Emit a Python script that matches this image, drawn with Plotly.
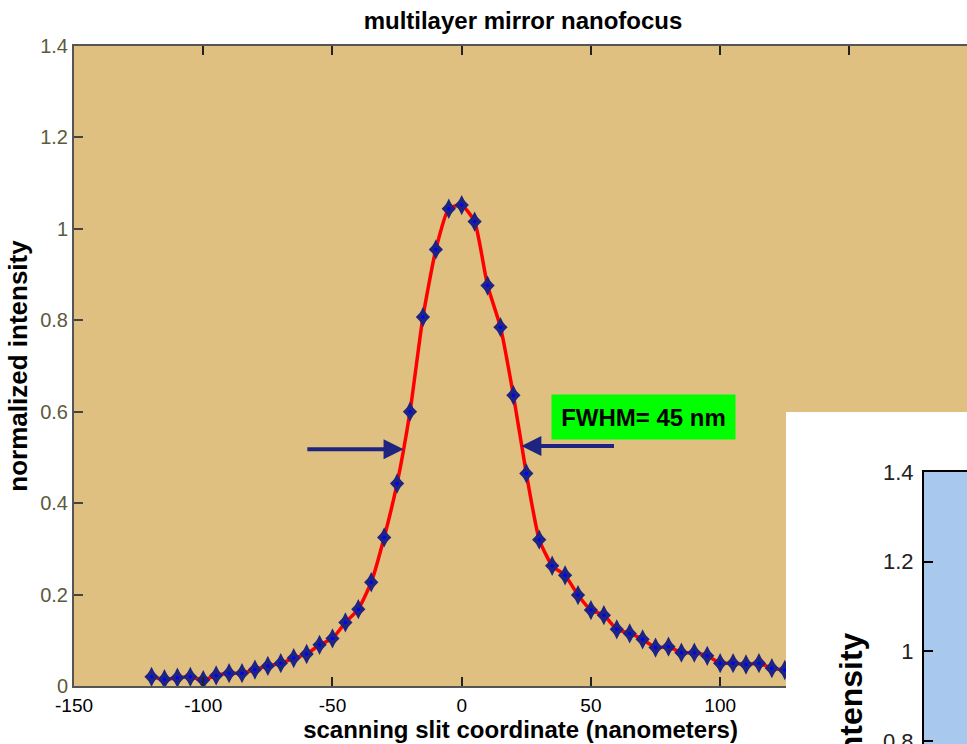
import plotly.graph_objects as go

# Scan positions (nm) and normalized intensity of the focused beam profile
x_nm = [-120, -115, -110, -105, -100, -95, -90, -85, -80, -75,
        -70, -65, -60, -55, -50, -45, -40, -35, -30, -25,
        -20, -15, -10, -5, 0, 5, 10, 15, 20, 25,
        30, 35, 40, 45, 50, 55, 60, 65, 70, 75,
        80, 85, 90, 95, 100, 105, 110, 115, 120, 125]
intensity = [0.020, 0.015, 0.018, 0.020, 0.013, 0.023, 0.028, 0.028, 0.036, 0.044,
             0.050, 0.061, 0.070, 0.090, 0.104, 0.139, 0.168, 0.227, 0.325, 0.443,
             0.600, 0.807, 0.955, 1.044, 1.052, 1.016, 0.876, 0.785, 0.636, 0.465,
             0.320, 0.263, 0.242, 0.199, 0.166, 0.155, 0.124, 0.115, 0.102, 0.084,
             0.086, 0.073, 0.073, 0.066, 0.050, 0.050, 0.047, 0.050, 0.039, 0.035]

x_ticks = [-150, -100, -50, 0, 50, 100, 150]
x_tick_labels = ["-150", "-100", "-50", "0", "50", "100", "150"]
y_ticks = [0, 0.2, 0.4, 0.6, 0.8, 1.0, 1.2, 1.4]
y_tick_labels = ["0", "0.2", "0.4", "0.6", "0.8", "1", "1.2", "1.4"]

# Half-maximum markers: arrow tails and tips (x in nm) at their heights
fwhm_left = {"tail": -60.3, "tip": -22.5, "level": 0.518}
fwhm_right = {"tail": 59.5, "tip": 23.1, "level": 0.525}
fwhm_label = "FWHM= 45 nm"

# Inset panel axis
inset_ticks = [0.8, 1.0, 1.2, 1.4]
inset_tick_labels = ["0.8", "1", "1.2", "1.4"]

W, H = 967, 744
TAN = "#dfc080"
NAVY = "#1e2480"
FONT = "Liberation Sans, Arial, sans-serif"

fig = go.Figure()

# fitted profile line
fig.add_trace(go.Scatter(
    x=x_nm, y=intensity, mode="lines",
    line=dict(color="#ff0000", width=3.5, shape="spline", smoothing=0.5),
    hoverinfo="skip", showlegend=False))
# diamond markers (two overlaid shapes give a slightly tall diamond)
fig.add_trace(go.Scatter(
    x=x_nm, y=intensity, mode="markers",
    marker=dict(symbol="diamond", size=11, color=NAVY, line=dict(width=0)),
    showlegend=False))
fig.add_trace(go.Scatter(
    x=x_nm, y=intensity, mode="markers",
    marker=dict(symbol="diamond-tall", size=14.5, color=NAVY, line=dict(width=0)),
    showlegend=False))
fig.add_trace(go.Scatter(
    x=x_nm, y=intensity, mode="markers",
    marker=dict(symbol="circle", size=3.5, color="#0000ff", line=dict(width=0)),
    showlegend=False))

# placeholder traces that create the inset panel subplots
fig.add_trace(go.Scatter(x=[None], y=[None], xaxis="x2", yaxis="y2",
                         mode="markers", showlegend=False, hoverinfo="skip"))
fig.add_trace(go.Scatter(x=[None], y=[None], xaxis="x3", yaxis="y3",
                         mode="markers", showlegend=False, hoverinfo="skip"))

inset_bottom = 1.4 - 272 / 448.3

fig.update_layout(
    template="none",
    width=W, height=H,
    margin=dict(l=0, r=0, t=0, b=0),
    paper_bgcolor="white",
    plot_bgcolor=TAN,
    showlegend=False,
    title=dict(text="<b>multilayer mirror nanofocus</b>",
               x=523 / W, xanchor="center", xref="paper",
               y=1 - 21 / H, yanchor="middle", yref="paper",
               font=dict(family=FONT, size=24, color="black")),
    xaxis=dict(domain=[74 / W, 1], range=[-150, 195.5], anchor="y",
               tickvals=x_ticks, ticktext=x_tick_labels,
               ticks="inside", ticklen=9, tickwidth=1.5, tickcolor="#222222",
               showline=True, linecolor="#555555", linewidth=2, mirror="ticks",
               showgrid=False, zeroline=False, automargin=False,
               ticklabelstandoff=1,
               tickfont=dict(family=FONT, size=19, color="black"),
               title=dict(text="<b>scanning slit coordinate (nanometers)</b>",
                          standoff=0,
                          font=dict(family=FONT, size=24, color="black"))),
    yaxis=dict(domain=[58 / H, 698 / H], range=[0, 1.4], anchor="x",
               tickvals=y_ticks, ticktext=y_tick_labels,
               ticks="inside", ticklen=9, tickwidth=1.5, tickcolor="#444444",
               showline=True, linecolor="#555555", linewidth=2, mirror=False,
               showgrid=False, zeroline=False, automargin=False,
               ticklabelstandoff=0,
               tickfont=dict(family=FONT, size=20, color="#5c5a3c"),
               title=dict(text="<b>normalized intensity</b>", standoff=5,
                          font=dict(family=FONT, size=26, color="black"))),
    # white panel of the inset figure
    xaxis2=dict(domain=[786 / W, 1], range=[0, 1], anchor="y2", visible=False),
    yaxis2=dict(domain=[0, 332 / H], range=[0, 1], anchor="x2", visible=False),
    # inset axes
    xaxis3=dict(domain=[924 / W, 1], range=[0, 1], anchor="y3",
                showline=True, linecolor="black", linewidth=2, mirror=True,
                ticks="", showticklabels=False, showgrid=False, zeroline=False,
                automargin=False),
    yaxis3=dict(domain=[0, 272 / H], range=[inset_bottom, 1.4], anchor="x3",
                tickvals=inset_ticks, ticktext=inset_tick_labels,
                ticks="inside", ticklen=9, tickwidth=2, tickcolor="black",
                showline=True, linecolor="black", linewidth=2,
                showgrid=False, zeroline=False, automargin=False,
                ticklabelstandoff=4, ticklabeloverflow="allow",
                tickfont=dict(family=FONT, size=22, color="#222222")),
    shapes=[
        dict(type="rect", xref="x2", yref="y2", x0=0, x1=1, y0=0, y1=1,
             fillcolor="white", line=dict(width=0), layer="below"),
        dict(type="rect", xref="x3", yref="y3", x0=0, x1=1,
             y0=inset_bottom, y1=1.4,
             fillcolor="#a8c8ee", line=dict(width=0), layer="below"),
    ],
    annotations=[
        dict(x=fwhm_left["tip"], y=fwhm_left["level"], xref="x", yref="y",
             ax=fwhm_left["tail"], ay=fwhm_left["level"], axref="x", ayref="y",
             text="", showarrow=True, arrowhead=2, arrowsize=1.0,
             arrowwidth=4, arrowcolor=NAVY, standoff=0),
        dict(x=fwhm_right["tip"], y=fwhm_right["level"], xref="x", yref="y",
             ax=fwhm_right["tail"], ay=fwhm_right["level"], axref="x", ayref="y",
             text="", showarrow=True, arrowhead=2, arrowsize=1.0,
             arrowwidth=4, arrowcolor=NAVY, standoff=0),
        dict(x=70.2, y=0.5885, xref="x", yref="y",
             text="<b>" + fwhm_label + "</b>", showarrow=False,
             xanchor="center", yanchor="middle",
             width=171, height=32, borderpad=6, bgcolor="#00ff00",
             font=dict(family=FONT, size=24, color="black")),
        dict(x=851 / W, y=(H - 630) / H, xref="paper", yref="paper",
             text="<b>normalized intensity</b>", textangle=-90,
             showarrow=False, xanchor="center", yanchor="top",
             font=dict(family=FONT, size=32, color="black")),
    ],
)

fig.write_html("out.html")
